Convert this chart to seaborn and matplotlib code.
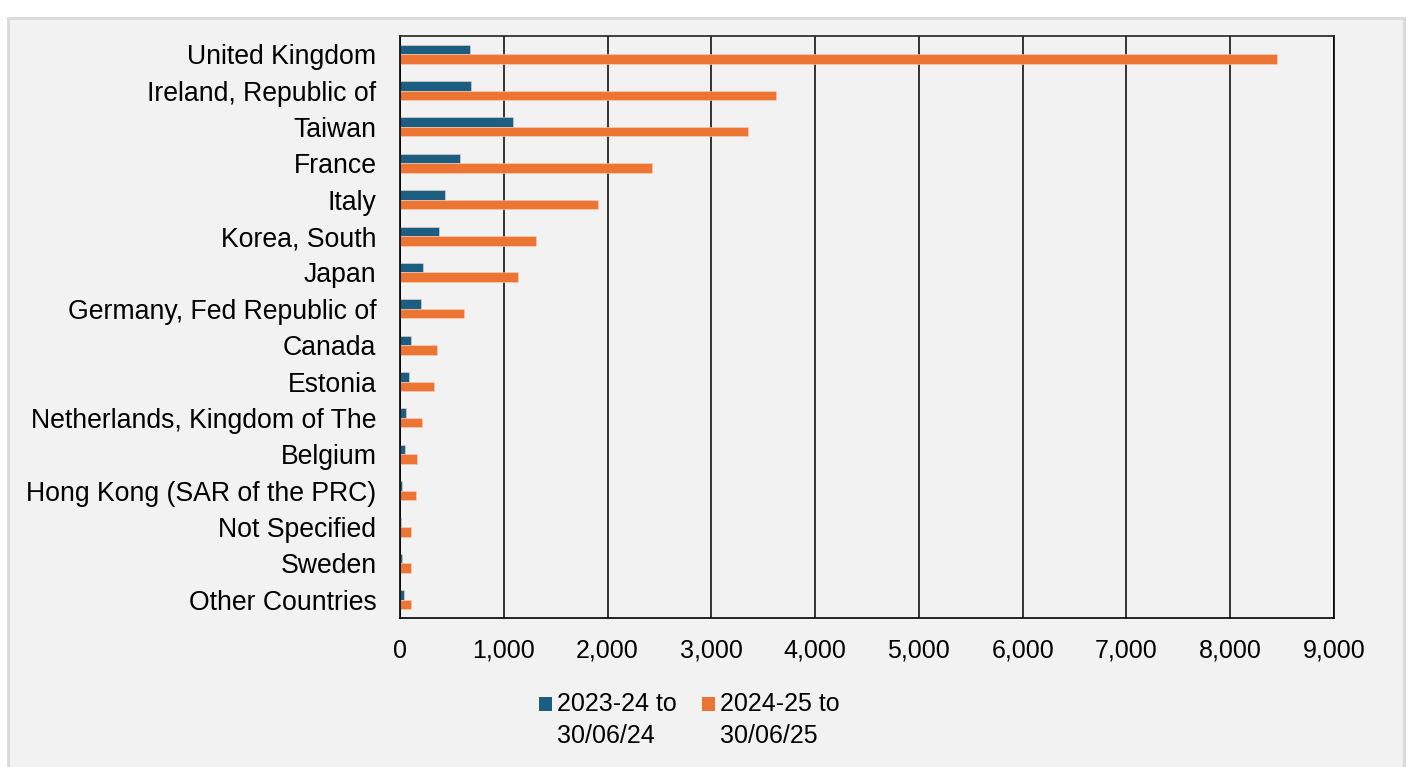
"""
Horizontal grouped bars: counts by country, two year-to-date periods.
Output: out.png
"""
import matplotlib
matplotlib.use("Agg")
import matplotlib.pyplot as plt
from matplotlib.patches import Rectangle
from matplotlib.ticker import FuncFormatter
import pandas as pd
import seaborn as sns

COUNTRIES = [
    "United Kingdom", "Ireland, Republic of", "Taiwan", "France", "Italy",
    "Korea, South", "Japan", "Germany, Fed Republic of", "Canada", "Estonia",
    "Netherlands, Kingdom of The", "Belgium", "Hong Kong (SAR of the PRC)",
    "Not Specified", "Sweden", "Other Countries",
]
PERIODS = ["2023-24 to\n30/06/24", "2024-25 to\n30/06/25"]
VALUES_2324 = [677, 687, 1090, 577, 432, 371, 223, 203, 106, 84, 62, 52, 20, 8, 20, 36]
VALUES_2425 = [8450, 3627, 3356, 2431, 1909, 1309, 1135, 616, 358, 323, 216, 168, 155, 110, 103, 103]
XTICKS = list(range(0, 9001, 1000))

COLORS = {PERIODS[0]: "#1B5E82", PERIODS[1]: "#ED7534"}
BG = "#F2F2F2"

sns.set_theme(style="white")
plt.rcParams["font.family"] = ["Liberation Sans", "DejaVu Sans"]
plt.rcParams["text.color"] = "black"

df = pd.DataFrame({
    "country": COUNTRIES * 2,
    "period": [PERIODS[0]] * len(COUNTRIES) + [PERIODS[1]] * len(COUNTRIES),
    "value": VALUES_2324 + VALUES_2425,
})

W, H = 1407, 767
fig = plt.figure(figsize=(W / 100, H / 100), dpi=100, facecolor="white")
# light grey chart frame behind everything
fig.patches.append(Rectangle((8 / W, -0.05), 1396 / W, 1.05 - 18 / H,
                             transform=fig.transFigure, facecolor=BG,
                             edgecolor="#D9D9D9", linewidth=2, zorder=-10))

ax = fig.add_axes([400 / W, 1 - 618 / H, 934 / W, 582 / H])
ax.set_zorder(2)
ax.set_facecolor(BG)

sns.barplot(data=df, y="country", x="value", hue="period", order=COUNTRIES,
            hue_order=PERIODS, palette=COLORS, orient="h", width=0.52,
            edgecolor="#F6D2C0", linewidth=0.4, saturation=1, ax=ax)

ax.set_xlim(0, 9000)
ax.set_ylim(len(COUNTRIES) - 0.5, -0.5)
ax.set_xticks(XTICKS)
ax.xaxis.set_major_formatter(FuncFormatter(lambda v, _: f"{int(v):,}"))
ax.grid(axis="x", color="black", linewidth=1.1)
ax.grid(axis="y", visible=False)
ax.set_axisbelow(True)
for side in ["top", "left", "bottom", "right"]:
    ax.spines[side].set_visible(True)
    ax.spines[side].set_color("black")
    ax.spines[side].set_linewidth(1.2)
ax.spines["top"].set_color("#222222")

ax.tick_params(axis="y", length=0, pad=17, labelsize=19.2, labelcolor="black")
ax.tick_params(axis="x", length=0, pad=15, labelsize=18, labelcolor="black")
ax.set_xlabel("")
ax.set_ylabel("")
ax.legend_.remove()

# legend drawn by hand so the swatch sits on the first text line
for (px, tx), p in zip([(539, 557), (702, 720)], PERIODS):
    fig.add_artist(Rectangle((px / W, 1 - 711 / H), 13 / W, 14 / H,
                             transform=fig.transFigure, facecolor=COLORS[p],
                             edgecolor="none"))
    fig.text(tx / W, 1 - 720 / H, p, fontsize=18, ha="left", va="center",
             linespacing=1.38, color="black")

fig.savefig("out.png", dpi=100, facecolor="white")
plt.close(fig)
